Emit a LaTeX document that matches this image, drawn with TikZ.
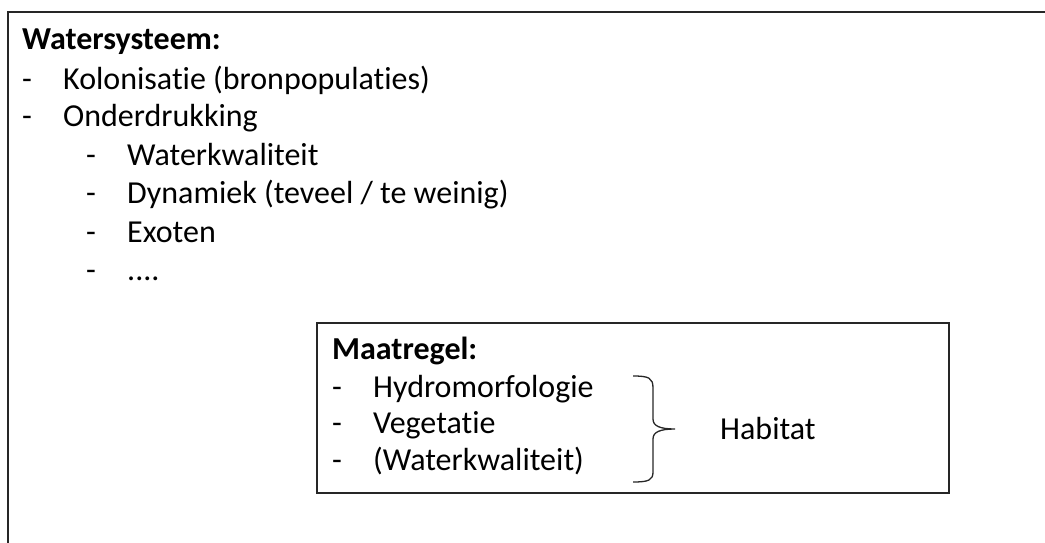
\documentclass[tikz,border=0pt]{standalone}
\usepackage{fontspec}
\setmainfont[Ligatures=CommonOff]{Carlito}
\begin{document}
\begin{tikzpicture}[x=1pt,y=1pt,
  txt/.style={anchor=base west,inner sep=0pt,font=\fontsize{32}{38}\selectfont},
  hdr/.style={txt,font=\fontsize{32}{38}\selectfont\bfseries},
  frame/.style={line width=1.4pt,draw=black!85}]
\useasboundingbox (0,0) rectangle (1045,-543);
% outer (cropped) box
\draw[frame] (1045,-12) -- (8,-12) -- (8,-543);
\node[hdr] (ws) at (22,-50) {Watersysteem:};
\node[txt] (d1) at (22,-89) {-};
\node[txt] (kol) at (63,-89) {Kolonisatie (bronpopulaties)};
\node[txt] (d2) at (22,-127) {-};
\node[txt] (ond) at (63,-127) {Onderdrukking};
\node[txt] (d3) at (86,-165) {-};
\node[txt] (wk) at (127,-165) {Waterkwaliteit};
\node[txt] (d4) at (86,-203) {-};
\node[txt] (dyn) at (127,-203) {Dynamiek (teveel / te weinig)};
\node[txt] (d5) at (86,-242) {-};
\node[txt] (exo) at (127,-242) {Exoten};
\node[txt] (d6) at (86,-280) {-};
\node[txt] (dots) at (127,-280) {....};
% inner box
\draw[frame] (317,-323) rectangle (949,-493);
\node[hdr] (mr) at (332,-359) {Maatregel:};
\node[txt] (e1) at (332,-397) {-};
\node[txt] (hyd) at (373,-397) {Hydromorfologie};
\node[txt] (e2) at (332,-433) {-};
\node[txt] (veg) at (373,-433) {Vegetatie};
\node[txt] (e3) at (332,-470) {-};
\node[txt] (wk2) at (373,-470) {(Waterkwaliteit)};
% brace
\draw[line width=1.3pt,black!85]
  (633,-376) .. controls (649,-376) and (653,-378) .. (653,-388)
  -- (653,-419) .. controls (653,-426) and (660,-429) .. (675,-429)
  .. controls (660,-429) and (653,-432) .. (653,-439)
  -- (653,-472) .. controls (653,-480) and (649,-482) .. (633,-482);
\node[txt] (hab) at (720,-439) {Habitat};
\end{tikzpicture}
\end{document}
